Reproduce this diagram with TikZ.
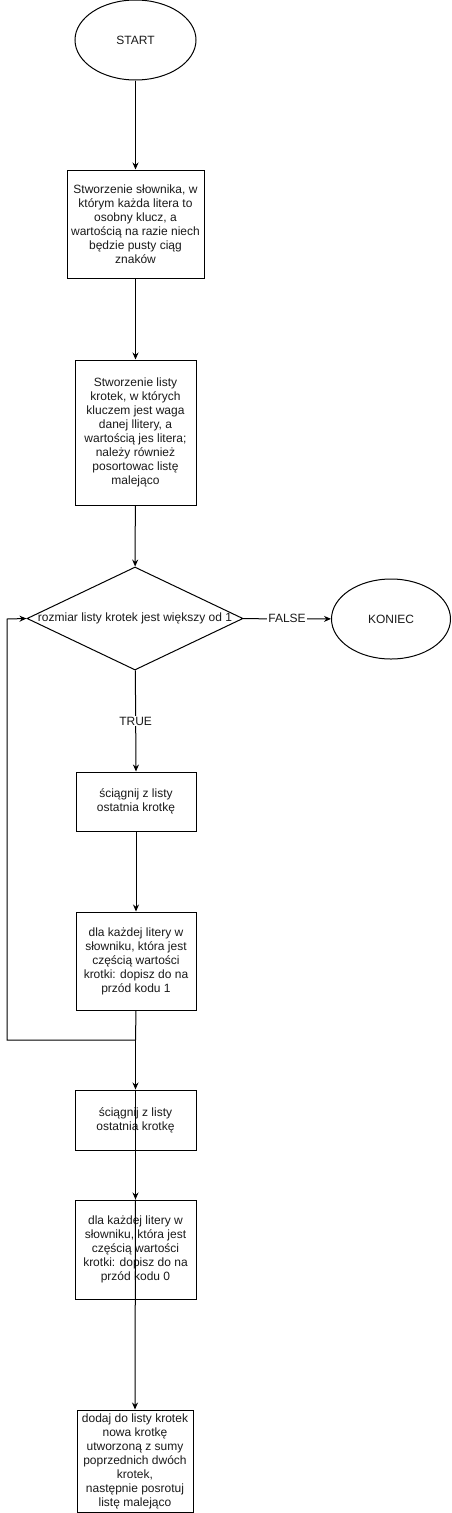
\documentclass[tikz,border=0pt]{standalone}
\usepackage{fontspec}
\setmainfont{Liberation Sans}
\usetikzlibrary{shapes.geometric,arrows.meta}
\begin{document}
\begin{tikzpicture}[x=1pt,y=-1pt,
  every node/.style={font=\fontsize{12}{14}\selectfont, text=black!90},
  term/.style={ellipse,draw,line width=1pt,inner sep=0pt,minimum width=121pt,minimum height=80pt},
  proc/.style={rectangle,draw,line width=1pt,inner sep=0pt,align=center},
  dec/.style={diamond,draw,line width=1pt,inner sep=0pt,minimum width=216pt,minimum height=103pt},
  conn/.style={line width=1pt,-{Stealth[length=7pt,width=6pt]}},
  plain/.style={line width=1pt},
  lbl/.style={fill=white,inner sep=1pt}
]
\useasboundingbox (0,0) rectangle (452,1513);
\node[term] (start) at (135.5,40) {START};
\node[proc,minimum width=137pt,minimum height=108pt] (b1) at (135.5,224)
 {Stworzenie słownika, w\\którym każda litera to\\osobny klucz, a\\wartością na razie niech\\będzie pusty ciąg\\znaków};
\node[proc,minimum width=121pt,minimum height=145pt] (b2) at (135.5,432.5)
 {Stworzenie listy\\krotek, w których\\kluczem jest waga\\danej llitery, a\\wartością jes litera;\\należy również\\posortowac listę\\malejąco};
\node[dec] (d) at (135,618.5) {};
\node at (d.center) {rozmiar listy krotek jest większy od 1};
\node[term,minimum width=119pt,minimum height=80pt] (end) at (391,619) {KONIEC};
\node[proc,minimum width=120pt,minimum height=59pt] (b3) at (136,801.5)
 {ściągnij z listy\\ostatnia krotkę};
\node[proc,minimum width=120pt,minimum height=98pt] (b4) at (136,961)
 {dla każdej litery w\\słowniku, która jest\\częścią wartości\\krotki: dopisz do na\\przód kodu 1};
\node[proc,minimum width=121pt,minimum height=60pt] (b5) at (135.5,1120)
 {ściągnij z listy\\ostatnia krotkę};
\node[proc,minimum width=121pt,minimum height=99pt] (b6) at (135.5,1249.5)
 {dla każdej litery w\\słowniku, która jest\\częścią wartości\\krotki: dopisz do na\\przód kodu 0};
\node[proc,minimum width=116pt,minimum height=102pt] (b7) at (135,1461)
 {dodaj do listy krotek\\nowa krotkę\\utworzoną z sumy\\poprzednich dwóch\\krotek,\\następnie posrotuj\\listę malejąco};
\coordinate (m) at (135.5,1040);
\coordinate (ml) at (7,1040);
\coordinate (mt) at (7,619);
\draw[conn] (start) -- (b1);
\draw[conn] (b1) -- (b2);
\draw[conn] (b2) -- (d);
\draw[conn] (d) -- node[lbl]{FALSE} (end);
\draw[conn] (d) -- node[lbl]{TRUE} (b3.north);
\draw[conn] (b3) -- (b4);
\draw[plain] (b4.south) -- (m);
\draw[conn] (m) -- (ml) -- (mt) -- (d.west);
\draw[conn] (m) -- (b5.north);
\draw[conn] (b5.north) -- (b6.north);
\draw[conn] (b6.north) -- (b7.north);
\end{tikzpicture}
\end{document}
